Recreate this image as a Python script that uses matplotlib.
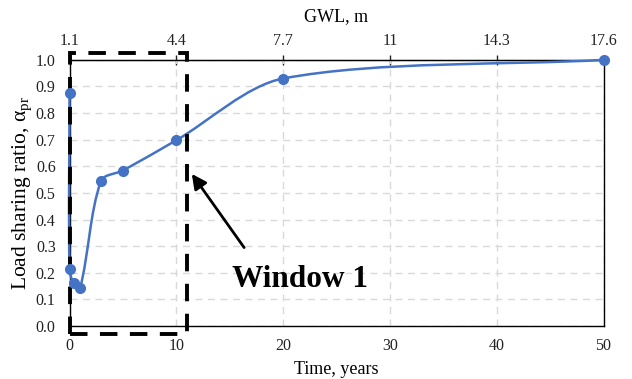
import matplotlib
matplotlib.use("Agg")
import matplotlib.pyplot as plt
import matplotlib.patches as patches
from matplotlib.path import Path
import numpy as np

plt.rcParams['font.family'] = ['Liberation Serif', 'DejaVu Serif']
plt.rcParams['mathtext.fontset'] = 'custom'
plt.rcParams['mathtext.rm'] = 'Liberation Serif'
plt.rcParams['mathtext.it'] = 'Liberation Serif:italic'

# load sharing ratio over time
time_years = [0, 0.0, 0.4, 1.0, 2.95, 5.0, 10.0, 20.0, 50.0]
load_ratio = [0.877, 0.213, 0.16, 0.144, 0.545, 0.584, 0.698, 0.93, 1.0]

# groundwater level shown on the top axis
gwl_ticks = [1.1, 4.4, 7.7, 11, 14.3, 17.6]
gwl_labels = ['1.1', '4.4', '7.7', '11', '14.3', '17.6']

blue = '#4472C4'


def smooth_path(xs, ys, sx, sy, k=0.3):
    # cubic bezier through each point; tangents from neighbours,
    # handle length a fraction of the chord (computed in screen-like units)
    pts = np.column_stack([np.asarray(xs) * sx, np.asarray(ys) * sy])
    n = len(pts)
    tang = []
    for i in range(n):
        a = pts[max(i - 1, 0)]
        b = pts[min(i + 1, n - 1)]
        d = b - a
        tang.append(d / np.hypot(*d))
    verts = [pts[0]]
    codes = [Path.MOVETO]
    for i in range(n - 1):
        p1, p2 = pts[i], pts[i + 1]
        L = np.hypot(*(p2 - p1)) * k
        verts += [p1 + tang[i] * L, p2 - tang[i + 1] * L, p2]
        codes += [Path.CURVE4] * 3
    verts = np.array(verts) / np.array([sx, sy])
    return Path(verts, codes)


fig = plt.figure(figsize=(6.32, 3.79), dpi=100)
ax = fig.add_axes([0.110, 0.140, 0.845, 0.702])
ax.set_xlim(0, 50)
ax.set_ylim(0, 1.0)

ax.grid(True, color='#d9d9d9', linestyle=(0, (5, 4)), linewidth=1.0)
ax.set_axisbelow(True)

ax.add_patch(patches.PathPatch(smooth_path(time_years, load_ratio, 10.68, 266.0),
                               facecolor='none', edgecolor=blue, lw=1.8,
                               zorder=3, clip_on=False))
ax.plot(time_years, load_ratio, linestyle='none', marker='o', ms=7,
        color=blue, zorder=7, clip_on=False)

ax.set_xticks(range(0, 51, 10))
ax.set_yticks(np.round(np.arange(0, 1.01, 0.1), 1))
ax.yaxis.set_major_formatter(matplotlib.ticker.FormatStrFormatter('%.1f'))
ax.tick_params(axis='x', length=0, labelsize=11.5, pad=9, colors='#222222')
ax.tick_params(axis='y', length=0, labelsize=11.5, pad=10, colors='#222222')
for s in ax.spines.values():
    s.set_color('black')
    s.set_linewidth(1.0)

ax.set_xlabel('Time, years', fontsize=13, labelpad=5)
ax.set_ylabel(r'Load sharing ratio, α$_{\mathrm{pr}}$', fontsize=15.5, labelpad=1)

top = ax.secondary_xaxis('top', functions=(lambda t: 1.1 + 0.33 * t,
                                           lambda g: (g - 1.1) / 0.33))
top.set_xticks(gwl_ticks)
top.set_xticklabels(gwl_labels)
top.tick_params(direction='inout', length=7, width=1.0, labelsize=11.5, pad=4,
                colors='#222222')
top.set_xlabel('GWL, m', fontsize=13, labelpad=9)

# highlighted window
win = patches.Rectangle((0, -0.03), 11.0, 1.056, fill=False, edgecolor='black',
                        lw=2.8, linestyle=(0, (4.5, 3.2)), clip_on=False, zorder=5)
ax.add_patch(win)

ax.annotate('', xy=(11.3, 0.58), xytext=(16.5, 0.286),
            arrowprops=dict(arrowstyle='-|>', color='black', lw=2,
                            mutation_scale=22), zorder=6)
ax.text(21.6, 0.175, 'Window 1', fontsize=22.5, fontweight='bold',
        ha='center', va='center', zorder=6)

fig.savefig('out.png', dpi=100)
